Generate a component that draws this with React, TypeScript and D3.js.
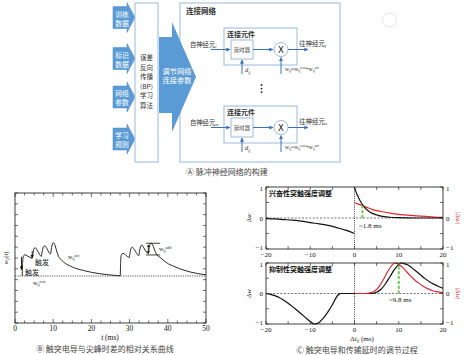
import React from "react";
import * as d3 from "d3";

// ---------- data ----------
// panel A labels
const inputLabels = [["训练", "数据"], ["标识", "数据"], ["网络", "参数"], ["学习", "规则"]];
const bpLines = ["误差", "反向", "传播", "(BP)", "学习", "算法"];
const tuneLines = ["调节网络", "连接参数"];
const fromNeurons = ["i", "m"];
const toNeurons = ["j", "n"];

// panel B: w_ij(t)
const wTime = [
  1.9, 2.0, 2.2, 2.6, 3.2, 3.9, 4.5, 4.7, 4.95, 5.3, 5.8, 6.4, 6.9, 7.1, 7.4, 7.8, 8.3, 8.9, 9.3, 9.5,
  9.8, 10.1, 10.5, 10.9, 11.4, 12.2, 13.2, 14.5, 16, 18, 20, 22, 24, 26, 27.55,
  27.65, 27.85, 28.3, 28.9, 29.5, 29.9, 30.1, 30.4, 30.7, 31.2, 31.9, 32.4, 32.6, 32.9, 33.2, 33.7,
  34.4, 34.9, 35.1, 35.4, 35.7, 36.1, 36.7, 37.3, 38.0, 39.0, 40.2, 41.5, 43, 44.5, 46, 48, 50,
];
const wValue = [
  4.34, 5.6, 6.15, 6.3, 6.2, 6.07, 5.98, 6.4, 6.85, 6.95, 6.72, 6.35, 6.15, 6.55, 7.0, 7.12, 6.9, 6.5, 6.38, 6.8,
  7.3, 7.4, 7.15, 6.65, 6.15, 5.8, 5.5, 5.25, 5.03, 4.84, 4.68, 4.56, 4.47, 4.4, 4.36,
  5.6, 6.3, 6.43, 6.3, 6.12, 6.05, 6.45, 6.9, 7.0, 6.8, 6.4, 6.22, 6.6, 7.1, 7.2, 6.95,
  6.55, 6.42, 6.85, 7.3, 7.38, 7.15, 6.6, 6.22, 6.05, 5.75, 5.45, 5.25, 5.02, 4.85, 4.7, 4.55, 4.45,
];
const wRest = 4.34;
const addRange = [34.3, 38.0];
const addLevels = [6.28, 7.36];
const addArrowT = 34.9;
const triggers = [
  { t: 4.5, from: 6.63, to: 5.82 },
  { t: 1.7, from: 6.12, to: 4.73 },
];

// panel C: excitatory
const excPreT = [-20, -18, -16, -14, -12, -10, -8, -6, -4, -2, 0];
const excPreW = [-0.02, -0.03, -0.05, -0.07, -0.1, -0.15, -0.19, -0.24, -0.31, -0.39, -0.5];
const excPostT = [0, 0.3, 0.6, 1, 1.5, 2, 3, 4, 5, 6, 8, 10, 14, 20];
const excPostW = [1, 0.86, 0.75, 0.63, 0.5, 0.39, 0.24, 0.15, 0.1, 0.06, 0.025, 0.01, 0, 0];
const excAbsT = [0, 1, 2, 3, 4, 5, 6, 8, 10, 12, 14, 16, 18, 20];
const excAbsW = [0.5, 0.44, 0.39, 0.33, 0.28, 0.24, 0.21, 0.16, 0.12, 0.09, 0.07, 0.05, 0.03, 0.02];
const excCross = { t: 1.8, w: 0.41 };

// panel C: inhibitory
const inhT = [
  -20, -19, -18, -17, -16, -15, -14, -13, -12, -11, -10, -9, -8, -7, -6, -5, -4, -3.5, -3, 0, 4, 5, 6, 7, 8, 9, 10,
  10.6, 11, 12, 13, 14, 15, 16, 17, 18, 19, 20,
];
const inhW = [
  0, -0.03, -0.07, -0.13, -0.22, -0.32, -0.43, -0.55, -0.67, -0.8, -0.92, -1.0, -0.95, -0.8, -0.6, -0.37, -0.1, -0.02, 0, 0, 0,
  0.04, 0.14, 0.32, 0.55, 0.78, 0.95, 1.0, 0.99, 0.94, 0.84, 0.72, 0.6, 0.48, 0.38, 0.3, 0.23, 0.17,
];
const inhAbsT = [0, 2.5, 3.5, 4.5, 5.5, 6.5, 7.5, 8.5, 9.1, 9.6, 10.5, 11.5, 12.5, 13.5, 14.5, 15.5, 16.5, 17.5, 18.5, 20];
const inhAbsW = [0, 0, 0.02, 0.07, 0.22, 0.45, 0.72, 0.93, 1.0, 0.99, 0.9, 0.76, 0.6, 0.46, 0.34, 0.24, 0.16, 0.1, 0.06, 0.03];
const inhPeak = { t: 10, w: 1 };

// ---------- styles ----------
const SERIF = "'Liberation Serif', 'DejaVu Serif', serif";
const CJK = "'Noto Sans CJK SC', 'Noto Sans', sans-serif";
const BLUE = "#5b9bd5";
const BOX = "#9ab9e0";
const LINE = "#3a6fc0";
const RED = "#e3262c";
const GREEN = "#6cc94a";
const TXT = "#333";

const minus = (v: number) => String(v).replace("-", "\u2212");

function Connector({ y0, from, to }: { y0: number; from: string; to: string }) {
  const cy = y0 + 21.5;
  return (
    <g>
      <rect x={224} y={y0} width={73} height={37} fill="#fff" stroke={BOX} strokeWidth={1} />
      <text x={227} y={y0 + 8.5} fontFamily={CJK} fontSize={7} fontWeight={600} fill={TXT}>连接元件</text>
      <text x={190} y={cy - 3} fontFamily={CJK} fontSize={6.3} fill={TXT}>
        自神经元<tspan fontFamily={SERIF} fontStyle="italic" fontSize={4.5} dy={1.5}>{from}</tspan>
      </text>
      <line x1={211} y1={cy} x2={230} y2={cy} stroke={LINE} strokeWidth={1} markerEnd="url(#ah)" />
      <rect x={231} y={y0 + 12} width={22} height={19} fill="#fff" stroke={BOX} strokeWidth={1} />
      <text x={242} y={cy + 2} textAnchor="middle" fontFamily={CJK} fontSize={5.3} fill={TXT}>延时器</text>
      <line x1={253} y1={cy} x2={273} y2={cy} stroke={LINE} strokeWidth={1} markerEnd="url(#ah)" />
      <circle cx={281} cy={cy} r={7} fill="#fff" stroke={BOX} strokeWidth={1} />
      <text x={281} y={cy + 3.2} textAnchor="middle" fontFamily="'DejaVu Sans', sans-serif" fontSize={8.5} fill="#111">X</text>
      <line x1={288} y1={cy} x2={308} y2={cy} stroke={LINE} strokeWidth={1} markerEnd="url(#ah)" />
      <text x={299} y={cy - 4} fontFamily={CJK} fontSize={6.5} fill={TXT}>
        往神经元<tspan fontFamily={SERIF} fontStyle="italic" fontSize={4.5} dy={1.5}>{to}</tspan>
      </text>
      <line x1={242} y1={y0 + 46} x2={242} y2={y0 + 32} stroke={LINE} strokeWidth={1} markerEnd="url(#ah)" />
      <text x={245} y={y0 + 44} fontFamily={SERIF} fontStyle="italic" fontSize={6.5} fill={TXT}>
        d<tspan fontSize={4} dy={1.5}>ij</tspan>
      </text>
      <line x1={281} y1={y0 + 46} x2={281} y2={y0 + 29.5} stroke={LINE} strokeWidth={1} markerEnd="url(#ah)" />
      <text x={285} y={y0 + 43} fontFamily={SERIF} fontSize={5.6} fill={TXT}>
        w<tspan fontSize={3.6} dy={1.2}>ij</tspan>
        <tspan dy={-1.2}>=w</tspan><tspan fontSize={3.6} dy={1.2}>ij</tspan>
        <tspan fontSize={3.6} dy={-3.5}>rest</tspan>
        <tspan dy={2.3}>+w</tspan><tspan fontSize={3.6} dy={1.2}>ij</tspan>
        <tspan fontSize={3.6} dy={-3.5}>act</tspan>
      </text>
    </g>
  );
}

function PanelA() {
  const centers = [17.5, 58.5, 97, 139];
  return (
    <g>
      {inputLabels.map((lab, i) => {
        const c = centers[i];
        const p = `M113,${c - 11}L127,${c - 11}L127,${c - 15}L135,${c}L127,${c + 15}L127,${c + 11}L113,${c + 11}Z`;
        return (
          <g key={i}>
            <path d={p} fill={BLUE} stroke="#4a88c7" strokeWidth={0.5} />
            <text x={122} y={c - 1} textAnchor="middle" fontFamily={CJK} fontSize={6.8} fill="#fff">{lab[0]}</text>
            <text x={122} y={c + 8} textAnchor="middle" fontFamily={CJK} fontSize={6.8} fill="#fff">{lab[1]}</text>
          </g>
        );
      })}
      <rect x={135} y={3} width={23} height={159} fill="#fff" stroke={BOX} strokeWidth={1} />
      {bpLines.map((s, i) => (
        <text key={i} x={146.5} y={60 + i * 9.6} textAnchor="middle" fontFamily={CJK} fontSize={6.5} fill={TXT}>{s}</text>
      ))}
      <rect x={180} y={3} width={160} height={159} fill="#fff" stroke={BOX} strokeWidth={1} />
      <path d="M159,37L172,37L172,22L196,77L172,132L172,113L159,113Z" fill={BLUE} />
      {tuneLines.map((s, i) => (
        <text key={i} x={177} y={74 + i * 8.5} textAnchor="middle" fontFamily={CJK} fontSize={7.2} fill="#fff">{s}</text>
      ))}
      <text x={186} y={14} fontFamily={CJK} fontSize={7.5} fontWeight={600} fill={TXT}>连接网络</text>
      <Connector y0={28} from={fromNeurons[0]} to={toNeurons[0]} />
      {[0, 1, 2].map((k) => (
        <circle key={k} cx={261.5} cy={85 + k * 3.6} r={0.9} fill="#222" />
      ))}
      <Connector y0={106} from={fromNeurons[1]} to={toNeurons[1]} />
      <text x={186} y={175} fontFamily={CJK} fontSize={8} fill="#444">Ⓐ 脉冲神经网络的构建</text>
    </g>
  );
}

function PanelB() {
  const x = d3.scaleLinear().domain([0, 50]).range([15, 206]);
  const y = d3.scaleLinear().domain([0, 12]).range([323, 193]);
  const line = d3
    .line<number>()
    .x((d, i) => x(wTime[i]))
    .y((d) => y(d))
    .curve(d3.curveMonotoneX);
  const [x0, x1] = x.range();
  const [yb, yt] = y.range();
  const minor = d3.range(0, 50.01, 2.5);
  return (
    <g>
      <line x1={x0} x2={x1} y1={y(wRest)} y2={y(wRest)} stroke="#999" strokeWidth={1.3} strokeDasharray="1.3,1" />
      <path d={line(wValue) || ""} fill="none" stroke="#111" strokeWidth={0.9} />
      <rect x={x0} y={yt} width={x1 - x0} height={yb - yt} fill="none" stroke="#111" strokeWidth={0.8} />
      {minor.map((t) => (
        <g key={t}>
          <line x1={x(t)} x2={x(t)} y1={yb} y2={yb - (t % 10 === 0 ? 4 : 2.5)} stroke="#111" strokeWidth={0.6} />
          <line x1={x(t)} x2={x(t)} y1={yt} y2={yt + (t % 10 === 0 ? 4 : 2.5)} stroke="#111" strokeWidth={0.6} />
        </g>
      ))}
      {y.ticks(12).map((v) => (
        <g key={v}>
          <line x1={x0} x2={x0 + 3} y1={y(v)} y2={y(v)} stroke="#111" strokeWidth={0.6} />
          <line x1={x1} x2={x1 - 3} y1={y(v)} y2={y(v)} stroke="#111" strokeWidth={0.6} />
        </g>
      ))}
      {x.ticks(5).map((t) => (
        <text key={t} x={x(t)} y={331} textAnchor="middle" fontFamily={SERIF} fontSize={7.5} fill="#111">{t}</text>
      ))}
      <text x={110} y={340} textAnchor="middle" fontFamily={SERIF} fontSize={7.5} fill="#111">
        <tspan fontStyle="italic">t</tspan> (ms)
      </text>
      <text transform={`translate(8,258) rotate(-90)`} textAnchor="middle" fontFamily={SERIF} fontSize={6.5} fill="#111">
        <tspan fontStyle="italic">w</tspan><tspan fontSize={4.5} dy={1.3}>ij</tspan><tspan dy={-1.3}>(</tspan>
        <tspan fontStyle="italic">t</tspan>)
      </text>
      {triggers.map((g, i) => (
        <line key={i} x1={x(g.t)} x2={x(g.t)} y1={y(g.from)} y2={y(g.to) - 2} stroke="#111" strokeWidth={0.9} markerEnd="url(#ahk)" />
      ))}
      <text x={35} y={265} fontFamily={CJK} fontSize={7} fill="#111">触发</text>
      <text x={25} y={275} fontFamily={CJK} fontSize={7} fill="#111">触发</text>
      <text x={68} y={259} fontFamily={SERIF} fontSize={6} fill="#222">
        w<tspan fontSize={4} dy={1.3}>ij</tspan><tspan fontSize={4} dy={-3.8}>act</tspan>
      </text>
      <text x={33} y={285} fontFamily={SERIF} fontSize={6} fill="#222">
        w<tspan fontSize={4} dy={1.3}>ij</tspan><tspan fontSize={4} dy={-3.8}>rest</tspan>
      </text>
      {addLevels.map((v) => (
        <line key={v} x1={x(addRange[0])} x2={x(addRange[1])} y1={y(v)} y2={y(v)} stroke="#111" strokeWidth={0.8} />
      ))}
      <line x1={x(addArrowT)} x2={x(addArrowT)} y1={y(addLevels[0]) - 1.5} y2={y(addLevels[1]) + 1.5} stroke="#111" strokeWidth={0.7}
        markerStart="url(#ahk)" markerEnd="url(#ahk)" />
      <text x={159} y={251} fontFamily={SERIF} fontSize={6} fill="#222">
        w<tspan fontSize={4} dy={1.3}>ij</tspan><tspan fontSize={4} dy={-3.8}>add</tspan>
      </text>
      <text x={36} y={352} fontFamily={CJK} fontSize={8} fill="#444">Ⓑ 触突电导与尖峰时差的相对关系曲线</text>
    </g>
  );
}

type Curve = { t: number[]; w: number[]; color: string };

function SubC({ top, bottom, title, curves, mark, markText, textPos, showXLabel }: {
  top: number; bottom: number; title: string; curves: Curve[]; mark: { t: number; w: number };
  markText: string; textPos: [number, number]; showXLabel: boolean;
}) {
  const x = d3.scaleLinear().domain([-20, 20]).range([266, 443]);
  const y = d3.scaleLinear().domain([-1, 1]).range([bottom, top]);
  const [x0, x1] = x.range();
  const line = (c: Curve) =>
    d3
      .line<number>()
      .x((d, i) => x(c.t[i]))
      .y((d) => y(d))
      .curve(d3.curveMonotoneX)(c.w) || "";
  return (
    <g>
      <line x1={x0} x2={x1} y1={y(0)} y2={y(0)} stroke="#111" strokeWidth={0.6} strokeDasharray="2,1.6" />
      <line x1={x(0)} x2={x(0)} y1={top} y2={bottom} stroke="#111" strokeWidth={0.8} strokeDasharray="1,1.2" />
      {curves.map((c, i) => (
        <path key={i} d={line(c)} fill="none" stroke={c.color} strokeWidth={1.2} />
      ))}
      <line x1={x(mark.t)} x2={x(mark.t)} y1={y(0)} y2={y(mark.w)} stroke={GREEN} strokeWidth={2} strokeDasharray="3,1.8" />
      <rect x={x0} y={top} width={x1 - x0} height={bottom - top} fill="none" stroke="#111" strokeWidth={0.8} />
      {x.ticks(8).map((t) => (
        <g key={t}>
          <line x1={x(t)} x2={x(t)} y1={bottom} y2={bottom - 3} stroke="#111" strokeWidth={0.6} />
          <line x1={x(t)} x2={x(t)} y1={top} y2={top + 3} stroke="#111" strokeWidth={0.6} />
        </g>
      ))}
      {y.ticks(4).map((v) => (
        <g key={v}>
          <line x1={x0} x2={x0 + 3} y1={y(v)} y2={y(v)} stroke="#111" strokeWidth={0.6} />
          <line x1={x1} x2={x1 - 3} y1={y(v)} y2={y(v)} stroke="#111" strokeWidth={0.6} />
        </g>
      ))}
      {x.ticks(4).map((t) => (
        <text key={t} x={x(t)} y={bottom + 8} textAnchor="middle" fontFamily={SERIF} fontSize={7} fill="#111">{minus(t)}</text>
      ))}
      {y.ticks(2).map((v) => {
        const ty = v < 0 ? y(v) + 0.5 : v > 0 ? y(v) + 3.5 : y(v) + 2.5;
        return (
          <g key={v}>
            <text x={x0 - 3} y={ty} textAnchor="end" fontFamily={SERIF} fontSize={7} fill="#111">{minus(v)}</text>
            <text x={x1 + 3} y={ty} fontFamily={SERIF} fontSize={7} fill="#111">{minus(v)}</text>
          </g>
        );
      })}
      <text transform={`translate(251,${y(0)}) rotate(-90)`} textAnchor="middle" fontFamily={SERIF} fontSize={7} fill="#111">
        Δ<tspan fontStyle="italic">w</tspan>
      </text>
      <text transform={`translate(456,${y(0)}) rotate(90)`} textAnchor="middle" fontFamily={SERIF} fontSize={7} fill={RED}>
        |Δ<tspan fontStyle="italic">w</tspan>|
      </text>
      <text x={269} y={top + 9} fontFamily={CJK} fontSize={7} fontWeight={600} fill="#111">{title}</text>
      <text x={textPos[0]} y={textPos[1]} fontFamily={SERIF} fontSize={7} fill="#111">{markText}</text>
      {showXLabel && (
        <text x={362} y={341} textAnchor="middle" fontFamily={SERIF} fontSize={7} fill="#111">
          Δ<tspan fontStyle="italic">t</tspan><tspan fontSize={4.5} dy={1.3} fontStyle="italic">ij</tspan>
          <tspan dy={-1.3}> (ms)</tspan>
        </text>
      )}
    </g>
  );
}

function PanelC() {
  return (
    <g>
      <SubC
        top={187}
        bottom={249}
        title="兴奋性突触强度调整"
        curves={[
          { t: excPreT, w: excPreW, color: "#111" },
          { t: excAbsT, w: excAbsW, color: RED },
          { t: excPostT, w: excPostW, color: "#111" },
        ]}
        mark={excCross}
        markText="~1.8 ms"
        textPos={[359, 228]}
        showXLabel={false}
      />
      <SubC
        top={263}
        bottom={324}
        title="抑制性突触强度调整"
        curves={[
          { t: inhT, w: inhW, color: "#111" },
          { t: inhAbsT, w: inhAbsW, color: RED },
        ]}
        mark={inhPeak}
        markText="~9.8 ms"
        textPos={[389, 302]}
        showXLabel={true}
      />
      <text x={296} y={353} fontFamily={CJK} fontSize={8} fill="#444">Ⓒ 触突电导和传输延时的调节过程</text>
    </g>
  );
}

export default function App() {
  return (
    <svg width={465} height={355} style={{ position: "absolute", left: 0, top: 0, background: "#fff" }}>
      <defs>
        <marker id="ah" viewBox="0 0 6 6" refX="5.5" refY="3" markerWidth="4" markerHeight="4" orient="auto">
          <path d="M0,0L6,3L0,6z" fill={LINE} />
        </marker>
        <marker id="ahk" viewBox="0 0 6 6" refX="5.5" refY="3" markerWidth="4" markerHeight="4" orient="auto-start-reverse">
          <path d="M0,0L6,3L0,6z" fill="#111" />
        </marker>
      </defs>
      <rect width={465} height={355} fill="#fff" />
      <circle cx={389.5} cy={20} r={7} fill="none" stroke="#eee" strokeWidth={1.5} />
      <PanelA />
      <PanelB />
      <PanelC />
    </svg>
  );
}
